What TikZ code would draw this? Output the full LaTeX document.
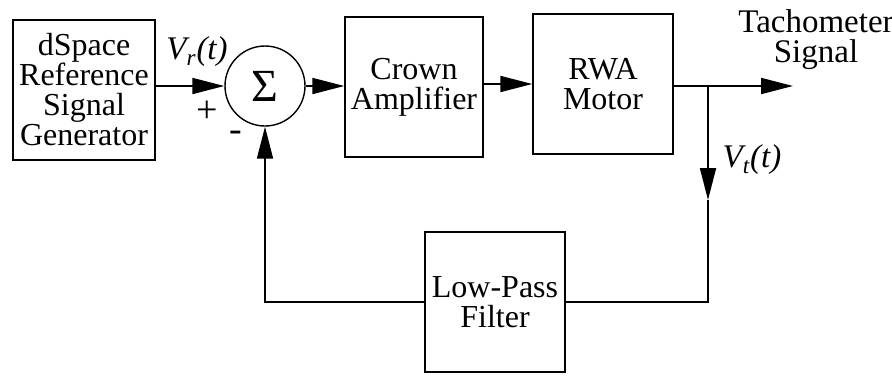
\documentclass[tikz,border=0pt]{standalone}
\usepackage{fontspec}
\setmainfont{Liberation Serif}
\usetikzlibrary{arrows.meta,positioning,calc}

\tikzset{
  block/.style={draw, line width=0.7pt, minimum width=70pt, minimum height=70pt, align=center, inner sep=1pt, font=\fontsize{16}{15}\selectfont},
  sumnode/.style={draw, circle, line width=0.7pt, minimum size=40pt, inner sep=0pt},
  sig/.style={line width=0.9pt, -{Triangle[length=16pt,width=8pt]}},
  wire/.style={line width=0.9pt},
  lbl/.style={font=\fontsize{16.5}{15}\selectfont}
}

\begin{document}
\begin{tikzpicture}[x=0.5pt,y=-0.5pt]
\useasboundingbox (0,0) rectangle (892,375);
\node [block, minimum width=71pt] (gen) at (84,90) {dSpace\\Reference\\Signal\\Generator};
\node [sumnode] (sum) at (265,86) {\fontsize{23}{23}\selectfont Σ};
\node [block, minimum width=69pt] (crown) at (414,87) {Crown\\Amplifier};
\node [block] (rwa) at (603,84) {RWA\\Motor};
\node [block] (lpf) at (495,302) {Low-Pass\\Filter};
\coordinate (split) at (708,86);
\coordinate (out) at (793,86);
\coordinate (vt) at (708,200);

\draw [sig] (gen.east |- sum.west) -- (sum.west);
\draw [sig] (sum.east) -- (crown.west |- sum.east);
\draw [sig] (crown.east |- rwa.west) -- (rwa.west);
\draw [sig] (rwa.east |- out) -- (out);
\draw [sig] (split) -- (vt);
\draw [wire] (vt) |- (lpf.east);
\draw [sig] (lpf.west) -| (sum.south);

\node [lbl] (vr) at (197,52) {\textit{V\textsubscript{r}(t)}};
\node [lbl, font=\fontsize{19}{19}\selectfont] (plus) at (207,112) {+};
\node [lbl, font=\fontsize{19}{19}\selectfont] (minus) at (236,136) {-};
\node [lbl] (vtlbl) at (752,160) {\textit{V\textsubscript{t}(t)}};
\node [lbl, align=center] (tach) at (816,40) {Tachometer\\Signal};
\end{tikzpicture}
\end{document}
